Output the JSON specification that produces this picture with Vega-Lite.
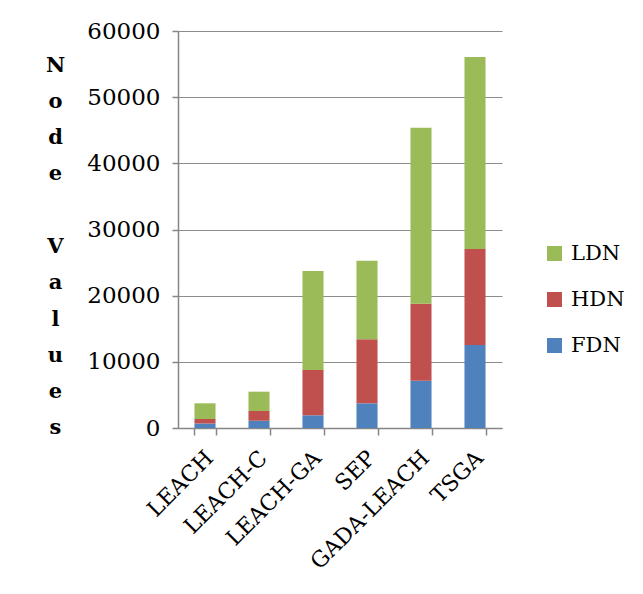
{
  "$schema": "https://vega.github.io/schema/vega-lite/v6.json",
  "width": 324,
  "height": 397,
  "autosize": {"type": "none"},
  "padding": {"left": 178, "top": 31, "right": 141, "bottom": 166},
  "background": "white",
  "data": {
    "values": [
      {"protocol": "LEACH", "series": "FDN", "value": 680},
      {"protocol": "LEACH", "series": "HDN", "value": 680},
      {"protocol": "LEACH", "series": "LDN", "value": 2370},
      {"protocol": "LEACH-C", "series": "FDN", "value": 1100},
      {"protocol": "LEACH-C", "series": "HDN", "value": 1470},
      {"protocol": "LEACH-C", "series": "LDN", "value": 2920},
      {"protocol": "LEACH-GA", "series": "FDN", "value": 1920},
      {"protocol": "LEACH-GA", "series": "HDN", "value": 6850},
      {"protocol": "LEACH-GA", "series": "LDN", "value": 14960},
      {"protocol": "SEP", "series": "FDN", "value": 3730},
      {"protocol": "SEP", "series": "HDN", "value": 9670},
      {"protocol": "SEP", "series": "LDN", "value": 11890},
      {"protocol": "GADA-LEACH", "series": "FDN", "value": 7150},
      {"protocol": "GADA-LEACH", "series": "HDN", "value": 11640},
      {"protocol": "GADA-LEACH", "series": "LDN", "value": 26600},
      {"protocol": "TSGA", "series": "FDN", "value": 12540},
      {"protocol": "TSGA", "series": "HDN", "value": 14510},
      {"protocol": "TSGA", "series": "LDN", "value": 29020}
    ]
  },
  "mark": {"type": "bar"},
  "encoding": {
    "x": {
      "field": "protocol",
      "type": "nominal",
      "sort": null,
      "scale": {"paddingInner": 0.61, "paddingOuter": 0.305},
      "axis": {
        "title": null,
        "labelAngle": -45,
        "labelFont": "DejaVu Serif",
        "labelFontSize": 22,
        "labelColor": "black",
        "tickBand": "extent",
        "tickSize": 7,
        "tickColor": "#868686",
        "tickWidth": 1.5,
        "domainColor": "#868686",
        "domainWidth": 1.5,
        "labelPadding": 12,
        "labelOffset": -3
      }
    },
    "y": {
      "field": "value",
      "type": "quantitative",
      "aggregate": "sum",
      "stack": "zero",
      "scale": {"domain": [0, 60000], "nice": false},
      "axis": {
        "title": ["N", "o", "d", "e", "\u2800", "V", "a", "l", "u", "e", "s"],
        "titleAngle": 0,
        "titleFont": "DejaVu Serif",
        "titleFontWeight": "bold",
        "titleFontSize": 21,
        "titleLineHeight": 36.3,
        "titleAlign": "center",
        "titleBaseline": "top",
        "titleX": -123,
        "titleY": 23,
        "titleColor": "black",
        "values": [0, 10000, 20000, 30000, 40000, 50000, 60000],
        "format": "d",
        "labelFont": "DejaVu Serif",
        "labelFontSize": 23,
        "labelColor": "black",
        "labelPadding": 12,
        "tickSize": 6,
        "tickColor": "#868686",
        "tickWidth": 1.5,
        "domainColor": "#868686",
        "domainWidth": 1.5,
        "grid": true,
        "gridColor": "#8c8c8c",
        "gridWidth": 1.2
      }
    },
    "color": {
      "field": "series",
      "type": "nominal",
      "scale": {"domain": ["LDN", "HDN", "FDN"], "range": ["#9BBB59", "#C0504D", "#4F81BD"]},
      "legend": {
        "title": null,
        "orient": "none",
        "legendX": 366,
        "legendY": 212,
        "symbolType": "square",
        "symbolSize": 225,
        "symbolStrokeWidth": 0,
        "labelFont": "DejaVu Serif",
        "labelFontSize": 21,
        "labelColor": "black",
        "rowPadding": 24,
        "labelOffset": 6
      }
    },
    "order": {"field": "series", "sort": "ascending"}
  },
  "config": {
    "view": {"stroke": null}
  }
}
